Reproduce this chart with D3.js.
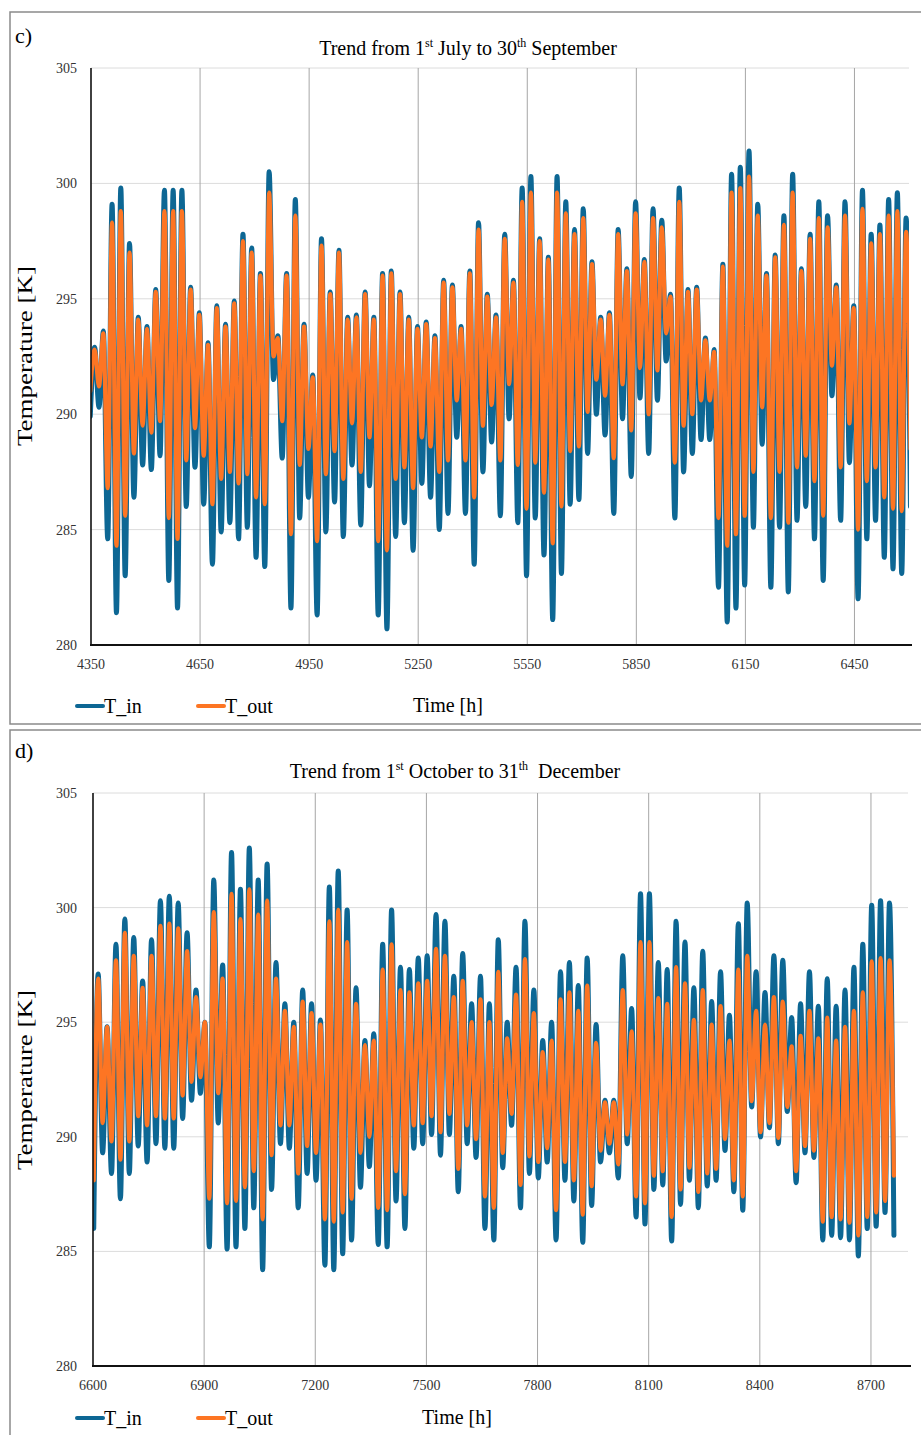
<!DOCTYPE html>
<html><head><meta charset="utf-8">
<script src="https://cdn.jsdelivr.net/npm/d3@7"></script>
<style>body{margin:0;background:#fff}svg{display:block}text{font-family:"Liberation Serif","Times New Roman",serif}</style>
</head><body>
<svg id="chart" width="921" height="1435"></svg>
<script>
// ---------- Panel c data (1 Jul - 30 Sep): daily troughs (from hour 4348) and peaks (12 h later)
const cFirstTrough = 4348;
const cInPeak = [292.9,293.6,299.1,299.8,297.4,294.2,293.8,295.4,299.7,299.7,299.7,295.5,294.4,293.1,294.7,293.9,294.9,297.8,297.2,296.1,300.5,293.4,296.1,299.3,
293.9,291.7,297.6,295.3,297.1,294.2,294.3,295.3,294.2,296.1,296.2,295.3,294.2,293.8,294.0,293.4,295.8,295.6,293.8,296.2,298.3,295.2,294.3,297.8,
295.8,299.8,300.3,297.6,296.8,300.3,299.2,298.0,298.9,296.6,294.2,294.4,298.0,296.3,299.2,296.7,298.9,298.4,295.2,299.8,295.4,295.5,293.3,292.8,
296.5,300.4,300.7,301.4,299.1,296.1,296.9,298.6,300.4,296.3,297.8,299.2,298.6,295.6,299.2,294.7,299.7,297.8,298.2,299.3,299.6,298.5];
const cOutPeak = [292.8,293.5,298.3,298.8,297.0,294.1,293.7,295.3,298.8,298.8,298.8,295.4,294.3,293.0,294.6,293.8,294.8,297.5,297.0,296.0,299.6,293.3,296.0,298.6,
293.8,291.6,297.3,295.2,297.0,294.1,294.2,295.2,294.1,296.0,296.1,295.2,294.1,293.7,293.9,293.3,295.7,295.5,293.7,296.1,298.0,295.1,294.2,297.6,
295.7,299.2,299.6,297.5,296.7,299.6,298.7,297.8,298.5,296.5,294.1,294.3,297.8,296.2,298.7,296.6,298.5,298.1,295.1,299.2,295.3,295.4,293.2,292.7,
296.4,299.6,299.8,300.3,298.6,296.0,296.8,298.2,299.6,296.2,297.6,298.5,298.1,295.5,298.6,294.6,298.9,297.4,297.8,298.6,298.8,297.9];
const cInTrough = [289.9,290.3,284.6,281.4,283.0,286.4,287.8,287.6,288.2,282.8,281.6,286.0,287.7,286.1,283.5,284.9,285.3,284.6,285.1,283.8,283.4,291.5,288.1,281.6,
285.5,286.4,281.3,284.9,286.2,284.7,287.8,285.2,286.9,281.3,280.7,284.7,285.3,284.1,287.0,286.4,285.0,285.7,289.0,285.7,283.5,287.5,288.8,285.6,
289.8,285.3,283.0,285.5,283.9,281.1,283.1,286.1,286.3,288.3,290.0,289.1,285.7,289.8,287.3,290.7,288.3,290.6,292.3,285.5,287.5,288.3,288.9,288.9,
282.5,281.0,281.6,282.6,285.1,288.7,282.5,285.1,282.3,285.4,286.0,284.6,282.8,290.8,285.4,287.9,282.0,284.6,285.4,283.8,283.3,283.1,286.0];
const cOutTrough = [291.0,291.2,286.8,284.3,285.6,288.3,289.5,289.2,289.7,285.5,284.6,288.0,289.4,288.2,286.1,287.2,287.5,287.0,287.4,286.4,286.1,292.5,289.7,284.8,
287.8,288.5,284.5,287.4,288.4,287.2,289.6,287.5,289.0,284.5,284.1,287.2,287.7,286.8,289.0,288.6,287.5,288.0,290.6,288.0,286.4,289.5,290.4,288.0,
291.3,287.8,285.9,287.9,286.6,284.4,286.0,288.4,288.6,290.1,291.5,290.8,288.1,291.3,289.3,292.0,290.0,291.9,293.5,287.9,289.5,290.0,290.6,290.6,
285.5,284.3,284.8,285.6,287.5,290.3,285.5,287.5,285.3,287.7,288.2,287.1,285.6,292.1,287.7,289.6,285.0,287.1,287.7,286.4,285.9,285.8,288.5];

// ---------- Panel d data (1 Oct - 31 Dec)
const dFirstTrough = 6602;
const dInPeak = [297.1,294.8,298.4,299.5,298.7,296.8,298.6,300.3,300.5,300.2,298.9,296.4,295.0,301.2,297.5,302.4,300.8,302.6,301.2,301.9,297.6,295.8,295.0,
296.4,295.8,295.1,300.9,301.6,299.9,296.5,294.2,294.5,298.4,299.9,297.4,297.3,297.8,297.9,299.7,299.4,297.0,298.0,295.8,297.0,295.8,298.6,
295.0,297.4,299.4,296.4,294.2,295.0,297.2,297.6,296.6,297.8,294.9,291.6,291.6,297.9,295.6,300.6,300.6,297.6,297.3,299.4,298.5,296.5,298.1,295.9,
297.2,295.3,299.3,300.2,297.2,296.3,297.9,297.7,295.2,295.8,297.2,295.7,296.9,295.7,296.4,297.4,298.4,300.1,300.3,300.2];
const dOutPeak = [296.9,294.8,297.7,298.9,297.9,296.5,297.9,299.2,299.3,299.1,298.1,296.1,295.0,299.8,296.9,300.6,299.5,300.8,299.7,300.3,296.9,295.5,294.8,
295.9,295.4,294.9,299.4,299.9,298.5,295.8,294.0,294.2,297.3,298.4,296.4,296.3,296.7,296.8,298.2,297.9,296.1,296.8,295.0,296.0,295.0,297.2,
294.3,296.2,297.75,295.4,293.7,294.2,296.0,296.3,295.5,296.6,294.1,291.5,291.5,296.4,294.6,298.5,298.5,296.05,295.8,297.4,296.7,295.1,296.4,294.9,
295.7,294.2,297.3,297.9,295.5,294.9,296.1,295.9,293.95,294.4,295.5,294.3,295.2,294.2,294.8,295.5,296.3,297.65,297.8,297.7];
const dInTrough = [286.0,289.3,288.4,287.3,288.4,289.6,288.9,289.7,289.5,289.5,290.8,291.6,291.9,285.2,290.6,285.1,285.2,286.0,286.9,284.2,287.7,289.7,289.5,
286.9,288.4,288.1,284.4,284.2,284.9,285.5,287.8,288.7,285.3,285.2,287.2,286.0,289.5,289.7,290.1,289.2,290.1,287.6,289.7,289.1,286.0,285.5,
288.65,290.5,286.9,288.4,288.2,288.9,285.5,288.1,287.2,285.4,287.0,288.9,289.3,288.2,289.7,286.5,286.2,287.7,287.9,285.45,287.05,288.1,286.9,287.85,
288.1,289.4,287.6,286.8,291.3,290.0,290.4,289.7,291.1,288.0,289.3,289.1,285.5,285.7,285.6,285.5,284.8,286.0,286.1,286.7,285.7];
const dOutTrough = [288.1,290.6,289.8,289.0,289.8,290.9,290.5,290.9,290.8,290.8,291.8,292.4,292.6,287.3,291.9,287.1,287.2,287.8,288.5,286.4,289.2,290.5,290.5,
288.4,289.6,289.3,286.4,286.3,286.7,287.3,289.3,290.0,286.9,286.8,288.5,287.5,290.5,290.6,290.9,290.2,291.0,288.6,290.5,289.9,287.4,286.9,
289.3,291.0,287.9,289.15,288.9,289.5,286.8,288.9,288.1,286.6,287.85,289.4,289.7,288.8,290.1,287.4,287.1,288.3,288.5,286.5,287.7,288.65,287.6,288.4,
288.6,289.9,288.1,287.4,291.55,290.2,290.6,289.95,291.3,288.5,289.6,289.4,286.3,286.5,286.4,286.25,285.7,286.5,286.7,287.2,288.3];

// ---------- ticks & labels
const yTicks = [280, 285, 290, 295, 300, 305];
const cXTicks = [4350, 4650, 4950, 5250, 5550, 5850, 6150, 6450];
const dXTicks = [6600, 6900, 7200, 7500, 7800, 8100, 8400, 8700];
const seriesNames = ["T_in", "T_out"];
const seriesColors = ["#0d6794", "#fd7523"];

const svg = d3.select("#chart");

function buildSeries(first, troughs, peaks) {
  const pts = [];
  troughs.forEach((t, i) => {
    pts.push([first + 24 * i, t]);
    if (i < peaks.length) pts.push([first + 12 + 24 * i, peaks[i]]);
  });
  return pts;
}

function panel(o) {
  const g = svg.append("g");
  // frame
  g.append("rect").attr("x", 10).attr("y", o.frameTop).attr("width", 930).attr("height", o.frameH)
    .attr("fill", "none").attr("stroke", "#8a8a8a").attr("stroke-width", 1.5);
  g.append("text").attr("x", 15).attr("y", o.labelY).attr("font-size", 22).text(o.label);
  // title
  const t = g.append("text").attr("x", o.titleX).attr("y", o.titleY).attr("text-anchor", "middle")
    .attr("font-size", 20).style("white-space", "pre");
  o.title.forEach(part => {
    if (part.sup) t.append("tspan").attr("font-size", 12).attr("dy", -8).text(part.s);
    else t.append("tspan").attr("dy", part.after ? 8 : 0).text(part.s);
  });

  const x = d3.scaleLinear().domain(o.xDomain).range(o.xRange);
  const y = d3.scaleLinear().domain([280, 305]).range(o.yRange);

  // horizontal grid
  g.append("g").selectAll("line").data(yTicks.filter(v => v > 280)).join("line")
    .attr("x1", o.xRange[0]).attr("x2", o.xRange[1]).attr("y1", d => y(d)).attr("y2", d => y(d))
    .attr("stroke", "#dcdcdc").attr("stroke-width", 1);
  // vertical grid
  g.append("g").selectAll("line").data(o.xTicks.slice(1)).join("line")
    .attr("x1", d => x(d)).attr("x2", d => x(d)).attr("y1", o.yRange[1]).attr("y2", o.yRange[0])
    .attr("stroke", "#a6a6a6").attr("stroke-width", 1);

  // data
  const clipId = "clip" + o.label[0];
  g.append("clipPath").attr("id", clipId).append("rect")
    .attr("x", o.xRange[0]).attr("y", o.yRange[1] - 20)
    .attr("width", o.xRange[1] - o.xRange[0]).attr("height", o.yRange[0] - o.yRange[1] + 20);
  const line = d3.line().x(d => x(d[0])).y(d => y(d[1])).curve(d3.curveMonotoneX);
  const dg = g.append("g").attr("clip-path", `url(#${clipId})`);
  dg.append("path").datum(buildSeries(o.first, o.inTrough, o.inPeak))
    .attr("d", line).attr("fill", "none").attr("stroke", seriesColors[0])
    .attr("stroke-width", 5).attr("stroke-linejoin", "round").attr("stroke-linecap", "round");
  dg.append("path").datum(buildSeries(o.first, o.outTrough, o.outPeak))
    .attr("d", line).attr("fill", "none").attr("stroke", seriesColors[1])
    .attr("stroke-width", 4.2).attr("stroke-linejoin", "round").attr("stroke-linecap", "round");

  // axes lines
  g.append("line").attr("x1", o.xRange[0]).attr("x2", o.xRange[0]).attr("y1", o.yRange[1]).attr("y2", o.yRange[0])
    .attr("stroke", "#111").attr("stroke-width", 1.6);
  g.append("line").attr("x1", o.xRange[0] - 1).attr("x2", o.xRange[1] + 3).attr("y1", o.yRange[0]).attr("y2", o.yRange[0])
    .attr("stroke", "#111").attr("stroke-width", 2);

  // y tick labels
  g.append("g").selectAll("text").data(yTicks).join("text")
    .attr("x", 77).attr("y", d => y(d) + 5).attr("text-anchor", "end").attr("font-size", 14)
    .attr("fill", "#333").text(d => d);
  // x tick labels
  g.append("g").selectAll("text").data(o.xTicks).join("text")
    .attr("x", d => x(d)).attr("y", o.yRange[0] + 24).attr("text-anchor", "middle").attr("font-size", 14)
    .attr("fill", "#333").text(d => d);

  // axis titles
  g.append("text").attr("transform", `translate(32,${o.yTitleY}) rotate(-90)`)
    .attr("text-anchor", "middle").attr("font-size", 21)
    .attr("textLength", 180).attr("lengthAdjust", "spacingAndGlyphs").text("Temperature [K]");
  g.append("text").attr("x", o.xTitleX).attr("y", o.legendY + 6).attr("text-anchor", "middle")
    .attr("font-size", 20).text("Time [h]");

  // legend
  const lg = g.append("g");
  const lx = [77, 198];
  seriesNames.forEach((n, i) => {
    lg.append("line").attr("x1", lx[i]).attr("x2", lx[i] + 26).attr("y1", o.legendY).attr("y2", o.legendY)
      .attr("stroke", seriesColors[i]).attr("stroke-width", 4).attr("stroke-linecap", "round");
    lg.append("text").attr("x", lx[i] + 27).attr("y", o.legendY + 7).attr("font-size", 20).text(n);
  });
}

panel({
  label: "c)", frameTop: 12, frameH: 712, labelY: 43, titleX: 468, titleY: 55,
  title: [{s: "Trend from 1"}, {s: "st", sup: true}, {s: " July to 30", after: true}, {s: "th", sup: true}, {s: " September", after: true}],
  xDomain: [4350, 6600], xRange: [91, 909], yRange: [645, 68], xTicks: cXTicks,
  first: cFirstTrough, inPeak: cInPeak, outPeak: cOutPeak, inTrough: cInTrough, outTrough: cOutTrough,
  yTitleY: 356, xTitleX: 448, legendY: 706
});
panel({
  label: "d)", frameTop: 730, frameH: 720, labelY: 758, titleX: 455, titleY: 778,
  title: [{s: "Trend from 1"}, {s: "st", sup: true}, {s: " October to 31", after: true}, {s: "th", sup: true}, {s: "  December", after: true}],
  xDomain: [6600, 8800], xRange: [93, 908], yRange: [1366, 793], xTicks: dXTicks,
  first: dFirstTrough, inPeak: dInPeak, outPeak: dOutPeak, inTrough: dInTrough, outTrough: dOutTrough,
  yTitleY: 1080, xTitleX: 457, legendY: 1418
});
</script>
</body></html>
